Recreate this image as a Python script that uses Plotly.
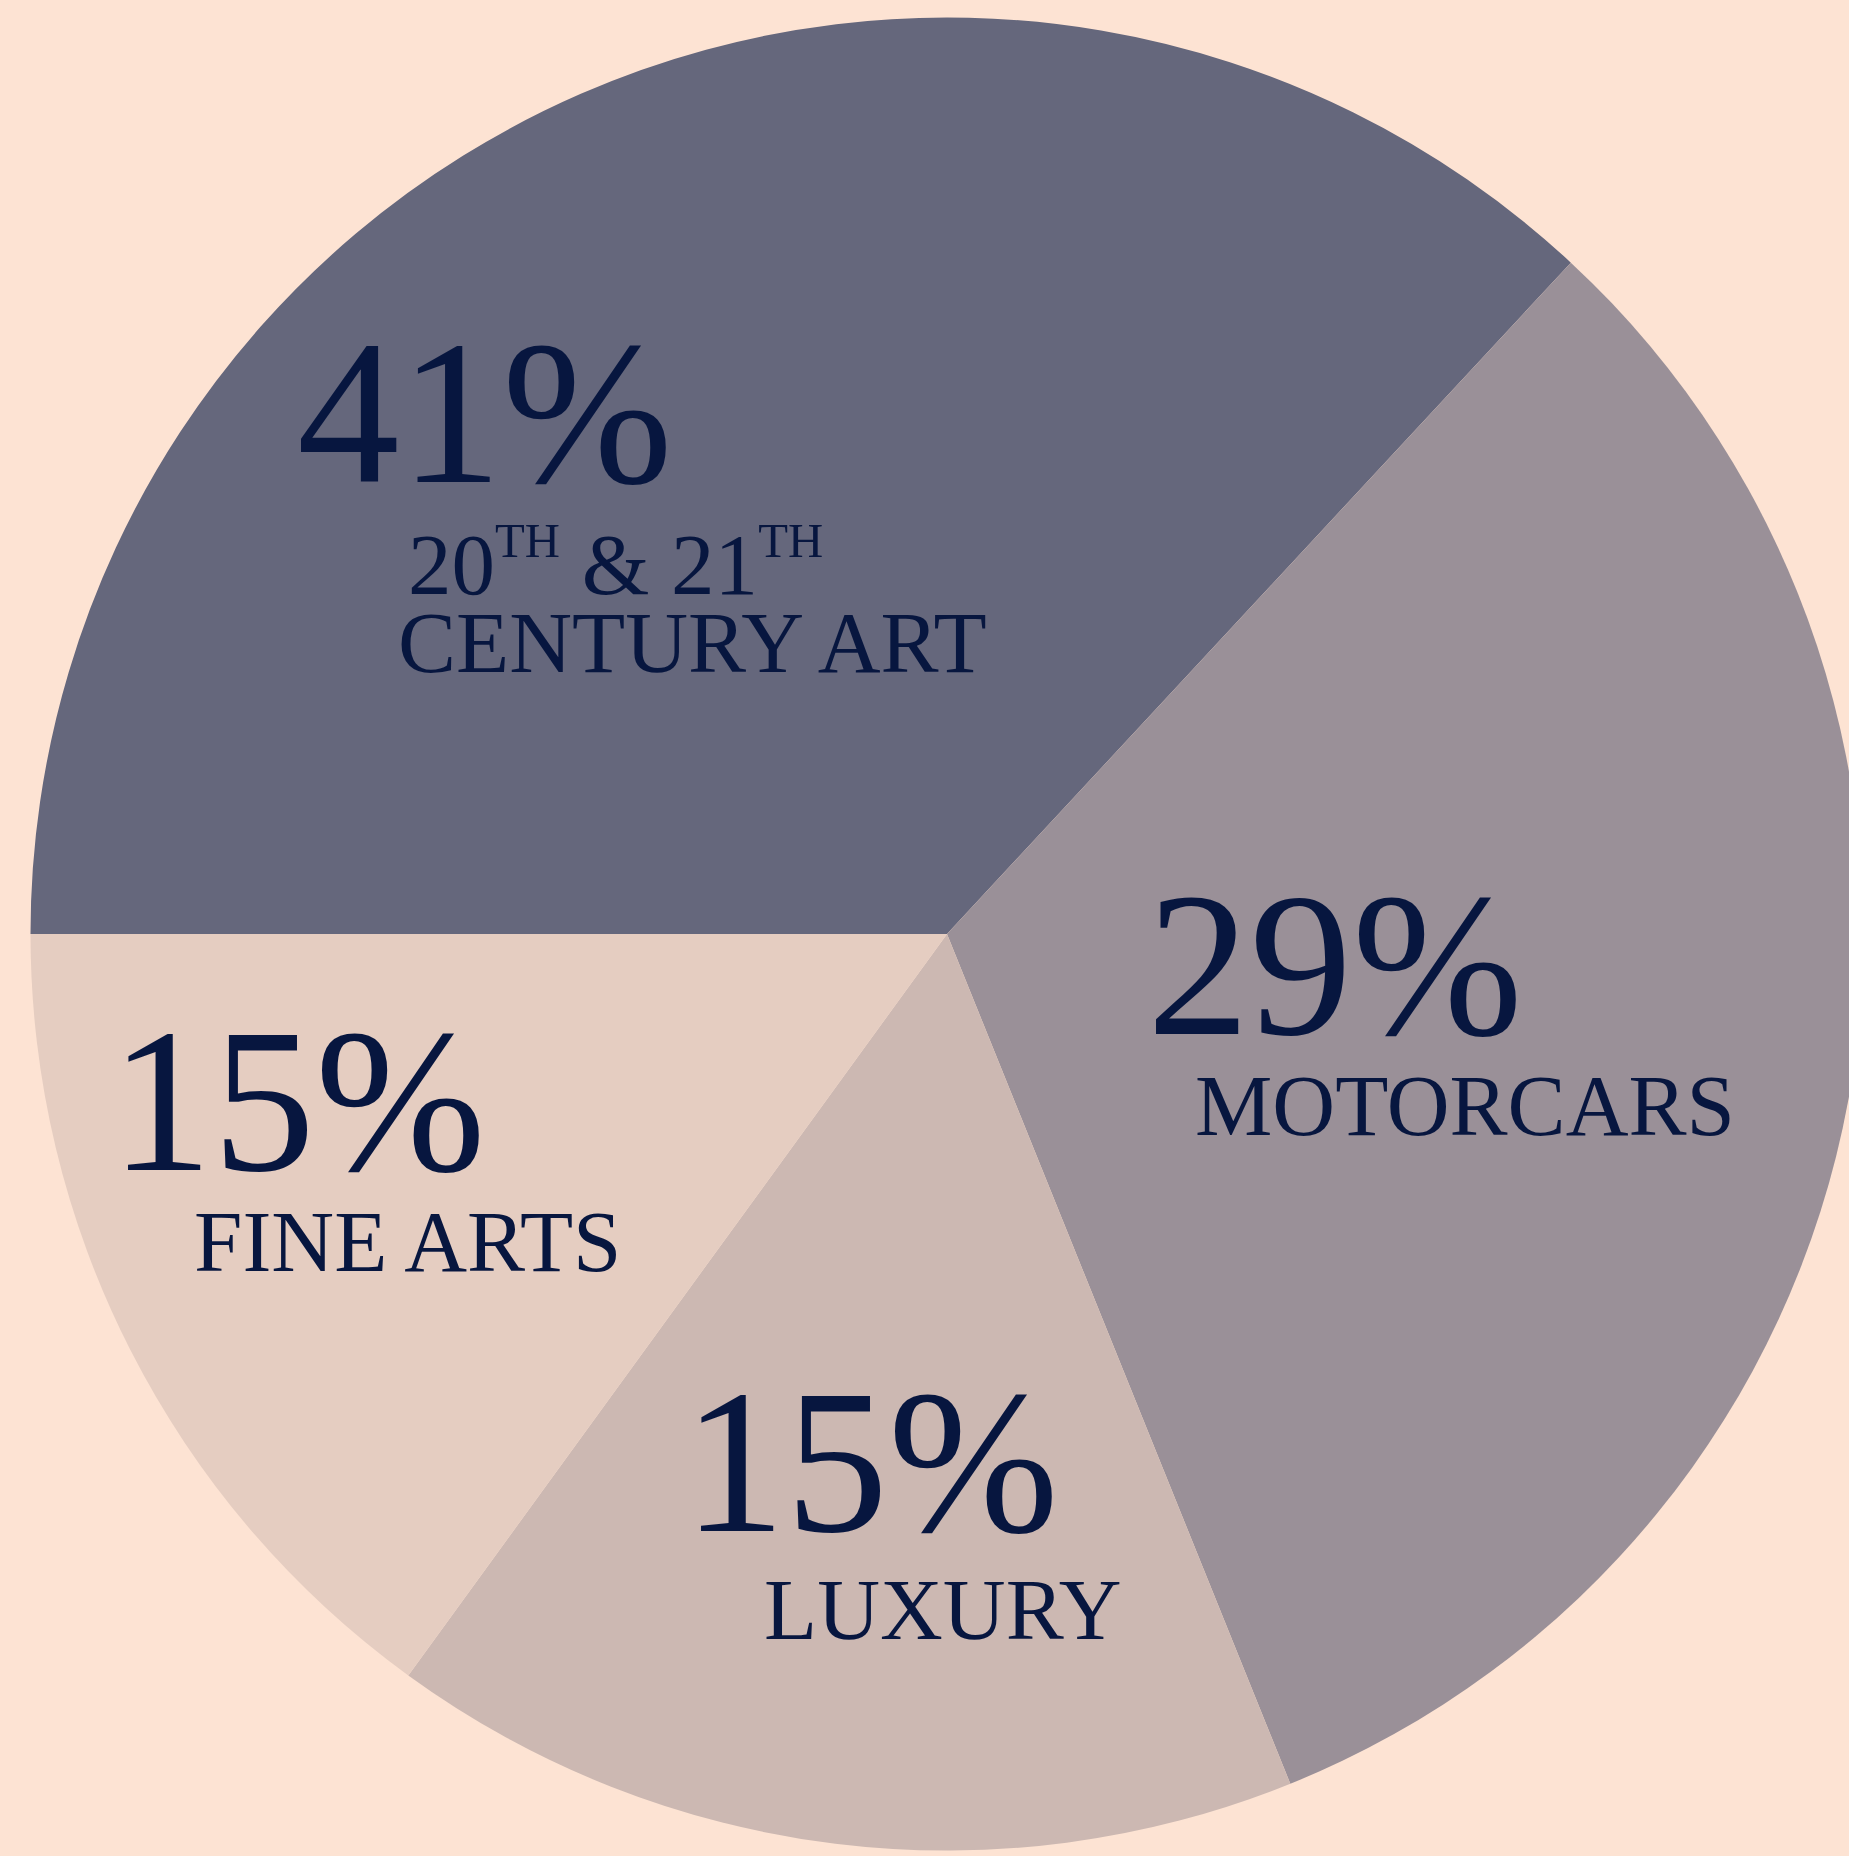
import plotly.graph_objects as go

categories = ["20th & 21th Century Art", "Motorcars", "Luxury", "Fine Arts"]
slice_values = [132.9, 115.1, 58.0, 54.0]
percent_labels = ["41%", "29%", "15%", "15%"]
SUP_TH = '<sup><span style="font-size:80%">TH</span></sup>'
name_labels = [["20" + SUP_TH + " & 21" + SUP_TH, "CENTURY ART"],
               ["MOTORCARS"], ["LUXURY"], ["FINE ARTS"]]
colors = ["#65677c", "#9a9098", "#ccb8b2", "#e5cdc1"]

# The pie runs past the right edge of the 1849 px window in the reference,
# so the figure is a little wider and the overflow is hidden.
W, H = 1864, 1856
BG = "#fde3d3"
INK = "#07163f"
FONT = "Liberation Serif"

fig = go.Figure(go.Pie(
    labels=categories,
    values=slice_values,
    sort=False,
    direction="clockwise",
    rotation=-90,
    marker=dict(colors=colors, line=dict(width=0)),
    textinfo="none",
    hoverinfo="label+percent",
    showlegend=False,
    domain=dict(x=[30 / W, 1.0], y=[0.00296, 0.99057]),
))

def px(x):
    return x / W

def py(y):
    return 1 - y / H

BIG, SMALL = 205, 87
# (text, x-center px, y-center px, size)
texts = [
    (percent_labels[0], 485, 413, BIG),
    (name_labels[0][0], 615, 563, SMALL),
    (name_labels[0][1], 692, 643, SMALL),
    (percent_labels[1], 1335, 964, BIG),
    (name_labels[1][0], 1465, 1105, SMALL),
    (percent_labels[3], 298, 1100, BIG),
    (name_labels[3][0], 407, 1241, SMALL),
    (percent_labels[2], 871, 1461, BIG),
    (name_labels[2][0], 943, 1609, SMALL),
]

for t, x, y, s in texts:
    fig.add_annotation(
        text=t, x=px(x), y=py(y), xref="paper", yref="paper",
        xanchor="center", yanchor="middle", showarrow=False,
        font=dict(family=FONT, size=s, color=INK),
    )

fig.update_layout(
    width=W, height=H,
    margin=dict(l=0, r=0, t=0, b=0),
    paper_bgcolor=BG, plot_bgcolor=BG,
)

fig.write_html(
    "out.html",
    config={"displayModeBar": False},
    post_script=(
        "document.body.style.margin='0';"
        "document.documentElement.style.overflow='hidden';"
        "document.body.style.overflow='hidden';"
    ),
)
